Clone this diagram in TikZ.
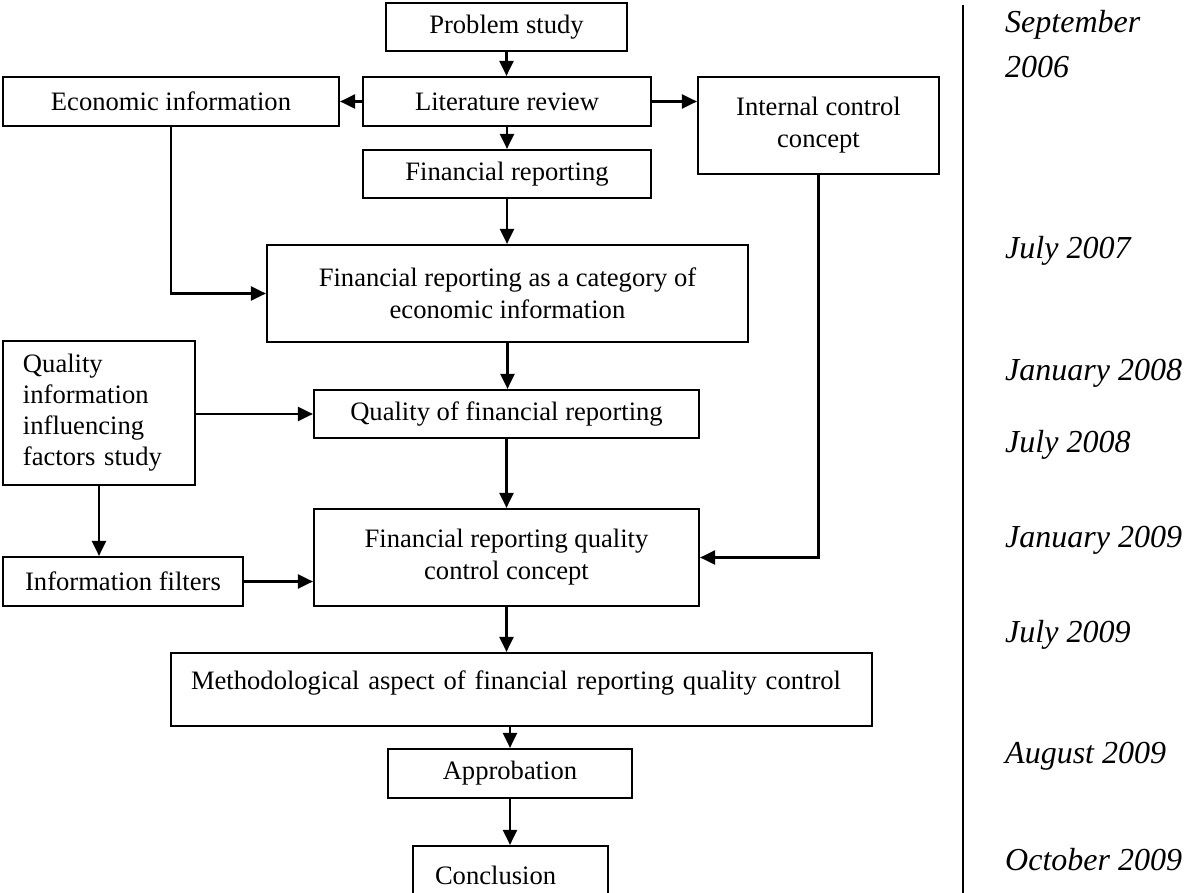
\documentclass[tikz,border=0pt]{standalone}
\usepackage{fontspec}
\setmainfont{Liberation Serif}
\usetikzlibrary{arrows.meta}
\begin{document}
\begin{tikzpicture}[x=1pt,y=-1pt,
  box/.style={draw, line width=2.2pt, inner sep=0pt, align=center,
    font=\fontsize{26.6pt}{32pt}\selectfont},
  link/.style={line width=2.2pt, -{Triangle[length=15pt,width=14pt]}},
  datelabel/.style={anchor=base west, inner sep=0pt,
    font=\fontsize{32pt}{45pt}\selectfont\itshape}]
\useasboundingbox (0,0) rectangle (1186,893);

% main flow
\node[box, minimum width=241pt, minimum height=48pt] (ps) at (506.5,27) {Problem study};
\node[box, minimum width=288pt, minimum height=49pt] (lr) at (507,101.5) {Literature review};
\node[box, minimum width=336pt, minimum height=49pt] (ei) at (171,101.5) {Economic information};
\node[box, minimum width=241pt, minimum height=97pt] (icc) at (818.5,125.5) {Internal control\\concept};
\node[box, minimum width=288pt, minimum height=48pt] (fr) at (507,174) {Financial reporting};
\node[box, minimum width=481pt, minimum height=97pt] (fcat) at (507.5,293.5)
  {Financial reporting as a category of\\economic information};
\node[box, align=left, text width=152pt, inner xsep=20pt, minimum height=144pt,
  font=\fontsize{26.6pt}{31pt}\selectfont] (qi) at (99,413)
  {Quality\\information\\influencing\\factors study};
\node[box, minimum width=385pt, minimum height=48pt] (qfr) at (506.5,414) {Quality of financial reporting};
\node[box, minimum width=385pt, minimum height=97pt] (frqc) at (506.5,557.5)
  {Financial reporting quality\\control concept};
\node[box, minimum width=240pt, minimum height=49pt] (inf) at (123,581.5) {Information filters};
\node[box, align=left, text width=661pt, inner xsep=20pt, minimum height=73pt, text depth=18pt]
  (meth) at (521.5,689.5) {Methodological aspect of financial reporting quality control};
\node[box, minimum width=244pt, minimum height=49pt] (appr) at (510,773.5) {Approbation};
\node[box, align=left, text width=151pt, inner xsep=22pt, minimum height=58pt]
  (concl) at (510.5,875) {Conclusion};

% connectors
\draw[link] (ps.south) -- (ps.south |- lr.north);
\draw[link] (lr.west) -- (ei.east);
\draw[link] (lr.east) -- (lr.east -| icc.west);
\draw[link] (lr.south) -- (lr.south |- fr.north);
\draw[link] (fr.south) -- (fr.south |- fcat.north);
\draw[link] (ei.south) |- (fcat.west);
\draw[link] (fcat.south) -- (fcat.south |- qfr.north);
\draw[link] (qi.east |- qfr.west) -- (qfr.west);
\draw[link] (qfr.south) -- (qfr.south |- frqc.north);
\draw[link] (qi.south) -- (qi.south |- inf.north);
\draw[link] (inf.east) -- (inf.east -| frqc.west);
\draw[link] (icc.south) |- (frqc.east);
\draw[link] (frqc.south) -- (frqc.south |- meth.north);
\draw[link] (appr.north |- meth.south) -- (appr.north);
\draw[link] (appr.south) -- (appr.south |- concl.north);

% time scale
\coordinate (sepT) at (962.5,5);
\coordinate (sepB) at (962.5,893);
\draw[line width=2pt] (sepT) -- (sepB);

\node[datelabel] (d1) at (1005,33) {\begin{tabular}[t]{@{}l@{}}September\\2006\end{tabular}};
\node[datelabel] (d2) at (1005,259) {July 2007};
\node[datelabel] (d3) at (1005,380) {January 2008};
\node[datelabel] (d4) at (1005,452) {July 2008};
\node[datelabel] (d5) at (1005,547) {January 2009};
\node[datelabel] (d6) at (1005,642) {July 2009};
\node[datelabel] (d7) at (1005,763) {August 2009};
\node[datelabel] (d8) at (1005,870) {October 2009};
\end{tikzpicture}
\end{document}
